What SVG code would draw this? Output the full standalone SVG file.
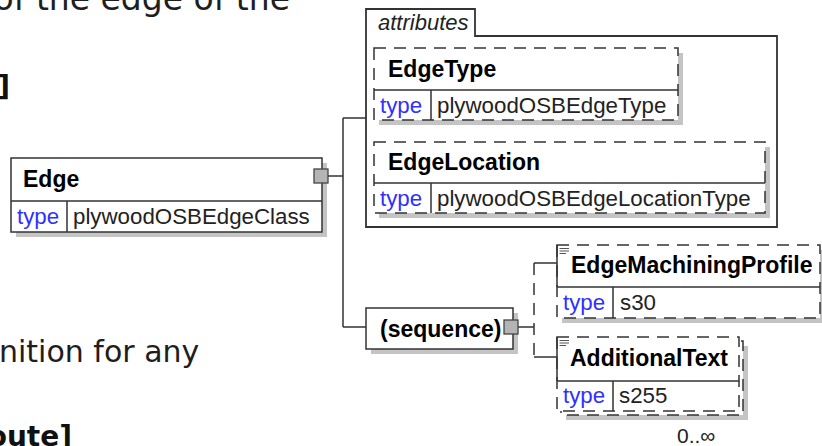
<svg xmlns="http://www.w3.org/2000/svg" width="822" height="446" viewBox="0 0 822 446">
<defs>
<style>
.bg{font-family:"DejaVu Sans",Verdana,sans-serif;font-size:33px;fill:#1e1e1e}
.bgb{font-family:"DejaVu Sans",Verdana,sans-serif;font-size:28px;font-weight:bold;fill:#111}
.name{font-family:"Liberation Sans",Arial,sans-serif;font-size:23px;font-weight:bold;fill:#000}
.lbl{font-family:"Liberation Sans",Arial,sans-serif;font-size:22.3px;fill:#222}
.kw{fill:#3030ff}
.box{fill:#fff;stroke:#333;stroke-width:1.5}
.dash{fill:#fff;stroke:#333;stroke-width:1.5;stroke-dasharray:12 8}
.sh{fill:#c4c4c4}
.ln{fill:none;stroke:#333;stroke-width:1.5}
.dl{fill:none;stroke:#333;stroke-width:1.5;stroke-dasharray:12 8}
.port{fill:#b4b4b4;stroke:#444;stroke-width:1.3}
.ic{fill:none;stroke:#555;stroke-width:1}
</style>
</defs>
<rect width="822" height="446" fill="#fff"/>
<g id="page-text">
<text class="bg" x="290" y="10" text-anchor="end">of the edge of the</text>
<text class="bgb" x="10" y="96" text-anchor="end">]</text>
<text class="bg" x="-1" y="362" style="font-size:30px">nition for any</text>
<text class="bgb" x="72" y="446" text-anchor="end">oute]</text>
</g>
<g id="connectors">
<path class="ln" d="M328,176 H343 M343,118 V327 M343,118 H366 M343,327 H366 M518,327 H534 M534,263 H557 M534,357 H557"/>
<path class="dl" d="M534,263 V357"/>
</g>
<g id="attributes">
<path d="M366,227 V9 H475 V36 H777 V227 Z" fill="#fff" stroke="#333" stroke-width="1.8"/>
<text x="378" y="30" font-family="Liberation Sans, Arial, sans-serif" font-size="22" font-style="italic" fill="#222">attributes</text>
</g>
<g id="Edge">
<rect class="sh" x="16" y="163" width="311" height="74"/>
<rect class="box" x="11" y="158" width="311" height="74"/>
<path class="ln" d="M11,201 H322 M67,201 V232"/>
<text class="name" x="23" y="187">Edge</text>
<text class="lbl kw" x="17" y="224">type</text>
<text class="lbl" x="73" y="224">plywoodOSBEdgeClass</text>
<rect class="port" x="314" y="169" width="14" height="14"/>
</g>
<g id="EdgeType">
<rect class="sh" x="379" y="53" width="304" height="72"/>
<rect class="dash" x="374" y="48" width="304" height="72"/>
<path class="ln" d="M374,90 H678 M431,90 V120"/>
<text class="name" x="388" y="77">EdgeType</text>
<text class="lbl kw" x="380" y="113">type</text>
<text class="lbl" x="437" y="113">plywoodOSBEdgeType</text>
</g>
<g id="EdgeLocation">
<rect class="sh" x="379" y="147" width="391" height="71"/>
<rect class="dash" x="374" y="142" width="391" height="71"/>
<path class="ln" d="M374,183 H765 M431,183 V213"/>
<text class="name" x="388" y="170">EdgeLocation</text>
<text class="lbl kw" x="380" y="206">type</text>
<text class="lbl" x="437" y="206">plywoodOSBEdgeLocationType</text>
</g>
<g id="sequence">
<rect class="sh" x="371" y="313" width="147" height="41"/>
<rect class="box" x="366" y="308" width="147" height="41"/>
<text class="name" x="380" y="337">(sequence)</text>
<rect class="port" x="504" y="320" width="14" height="14"/>
</g>
<g id="EdgeMachiningProfile">
<rect class="sh" x="562" y="250" width="263" height="73"/>
<rect class="dash" x="557" y="245" width="263" height="73"/>
<path class="ln" d="M557,245 V287 M557,287 H820 M613,287 V318"/>
<path class="ic" d="M559.5,248.5 H569 M559.5,251 H569 M559.5,253.5 H566"/>
<text class="name" x="571" y="273">EdgeMachiningProfile</text>
<text class="lbl kw" x="563" y="310">type</text>
<text class="lbl" x="620" y="310">s30</text>
</g>
<g id="AdditionalText">
<rect class="sh" x="566" y="346" width="182" height="74"/>
<rect class="dash" x="561" y="341" width="182" height="74"/>
<rect class="dash" x="557" y="337" width="182" height="74"/>
<path class="ln" d="M557,337 V381 M557,381 H739 M613,381 V411"/>
<path class="ic" d="M559.5,340.5 H569 M559.5,343 H569 M559.5,345.5 H566"/>
<text class="name" x="570" y="366">AdditionalText</text>
<text class="lbl kw" x="563" y="403">type</text>
<text class="lbl" x="619" y="403">s255</text>
<text class="lbl" x="677" y="443" style="font-size:21px">0..∞</text>
</g>
</svg>
